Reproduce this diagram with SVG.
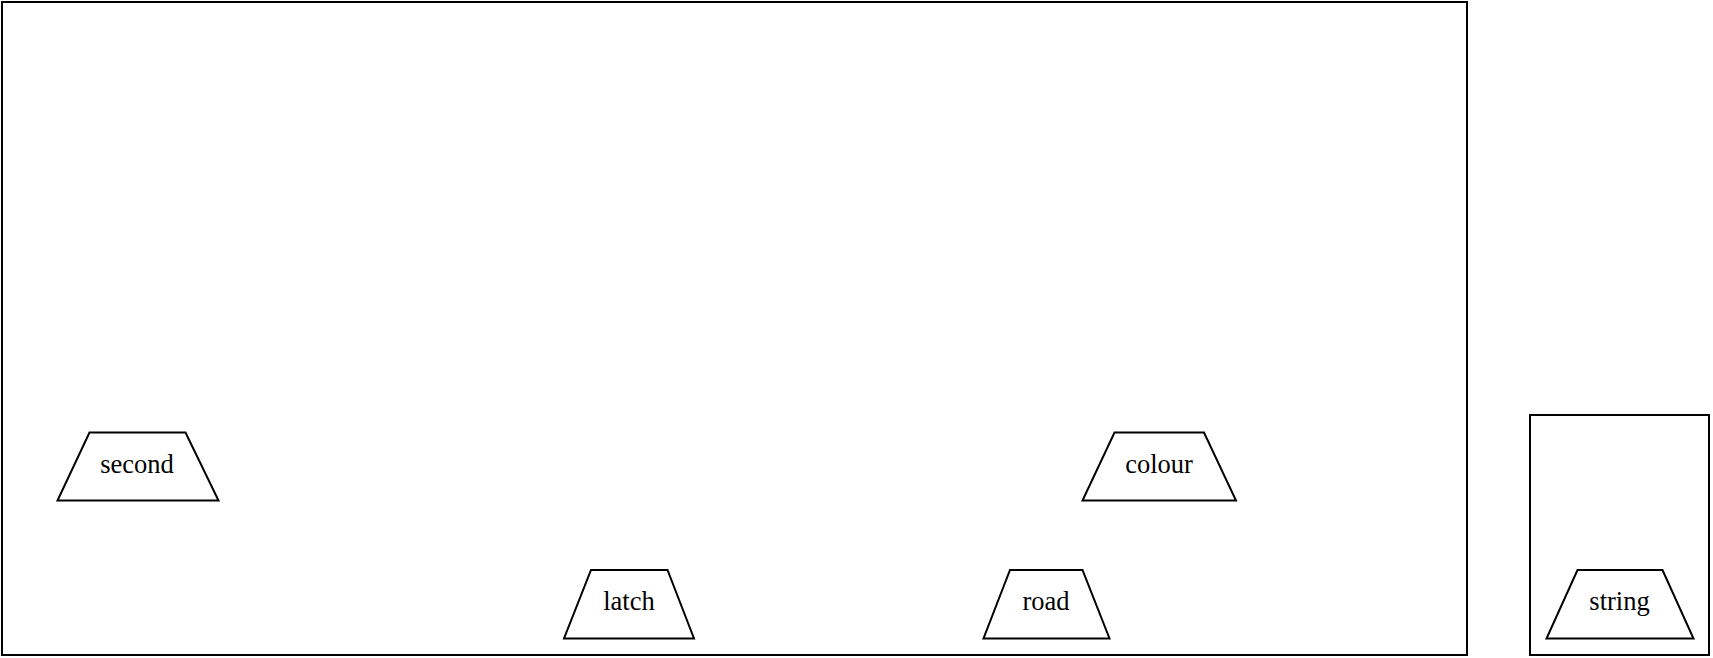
<svg xmlns="http://www.w3.org/2000/svg" width="1713" height="658" viewBox="0 0 1713 658">
<style>
.c{fill:none;stroke:#000;stroke-width:2}
.n{fill:#fff;stroke:#000;stroke-width:2}
.t{font-family:"Liberation Serif","Times New Roman",serif;font-size:26.5px;fill:#000;text-anchor:middle}
</style>
<rect width="1713" height="658" fill="#fff"/>
<g id="cluster-main"><rect class="c" x="2" y="2" width="1465" height="653"/></g>
<g id="cluster-side"><rect class="c" x="1530" y="415" width="179" height="240"/></g>
<g id="connectors"></g>
<g id="second"><polygon class="n" points="89.5,432.5 185.5,432.5 218.5,500.5 57.5,500.5"/><text class="t" x="137" y="473">second</text></g>
<g id="colour"><polygon class="n" points="1114.5,432.5 1204,432.5 1236,500.5 1082.5,500.5"/><text class="t" x="1159" y="473">colour</text></g>
<g id="latch"><polygon class="n" points="591,570 667.5,570 694,638.5 564,638.5"/><text class="t" x="629" y="610">latch</text></g>
<g id="road"><polygon class="n" points="1010,570 1082.5,570 1109.5,638.5 983.5,638.5"/><text class="t" x="1046" y="610">road</text></g>
<g id="string"><polygon class="n" points="1577.5,570 1662.5,570 1693.5,638.5 1546.5,638.5"/><text class="t" x="1619.5" y="610">string</text></g>
</svg>
